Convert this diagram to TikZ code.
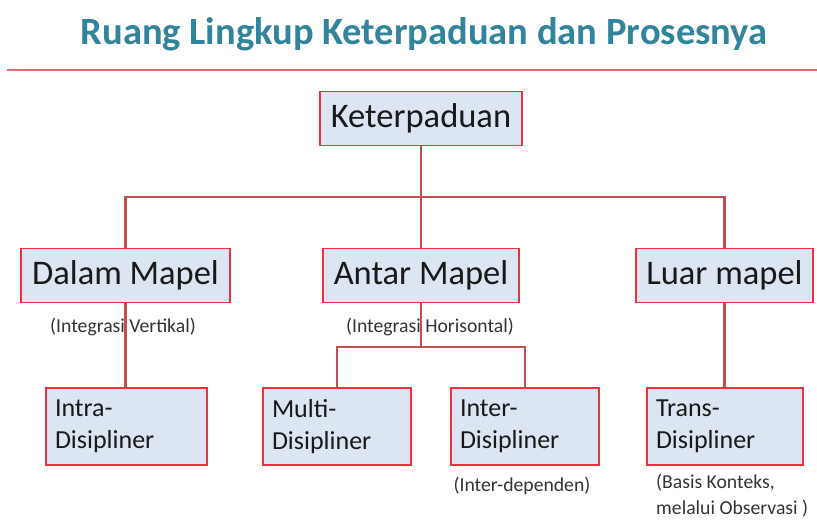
\documentclass[tikz,border=0pt]{standalone}
\usepackage{fontspec}
\setmainfont{Carlito}
\usepackage{xcolor}
\usepackage{tikz}
\usetikzlibrary{positioning,calc}
\definecolor{kpteal}{HTML}{31849B}
\definecolor{kprule}{HTML}{E06C6C}
\definecolor{kplink}{HTML}{C0504D}
\definecolor{kpedge}{HTML}{F0303C}
\definecolor{kpfill}{HTML}{DCE6F2}

\begin{document}
\begin{tikzpicture}[
  x=1pt, y=-1pt,
  boxtop/.style={draw=kpedge, fill=kpfill, line width=1.6pt, inner sep=0pt,
    minimum height=54pt, font=\fontsize{34.5}{40}\selectfont\color{black!90}},
  boxlow/.style={draw=kpedge, fill=kpfill, line width=1.6pt, inner ysep=0pt, inner xsep=9pt,
    minimum height=77pt, align=left, font=\fontsize{26}{32}\selectfont\color{black!90}},
  note/.style={font=\fontsize{19.7}{25.5}\selectfont\color{black!80}, inner sep=0pt},
  link/.style={draw=kplink, line width=2.8pt},
]
\useasboundingbox (0,0) rectangle (817,521);
% title and rule
\node[font=\fontsize{38.5}{44}\selectfont\bfseries\color{kpteal}, anchor=base] (title) at (424,44.5)
  {Ruang Lingkup Keterpaduan dan Prosesnya};
\coordinate (ruleL) at (7,70);
\coordinate (ruleR) at (817,70);
\draw[kprule, line width=1.8pt] (ruleL) -- (ruleR);

% boxes
\node[boxtop, minimum width=202pt] (ket) at (421,118.5) {Keterpaduan};
\node[boxtop, minimum width=209pt] (dalam) at (125.5,275.5) {Dalam Mapel};
\node[boxtop, minimum width=196pt] (antar) at (421,275.5) {Antar Mapel};
\node[boxtop, minimum width=177pt] (luar) at (724.5,275.5) {Luar mapel};
\foreach \nm/\xc/\bw/\tx in {%
  intra/126.5/161/{Intra-\\Disipliner},
  multi/337/148/{Multi-\\Disipliner},
  inter/525/148/{Inter-\\Disipliner},
  trans/725/156/{Trans-\\Disipliner}%
} {
  \pgfmathsetmacro{\tw}{\bw - 18}
  \node[boxlow, text width=\tw pt] (\nm) at (\xc,426.5) {\tx};
}

% connectors
\coordinate (bus) at (421,197);
\coordinate (bus2) at (421,347);
\draw[link] (ket.south) -- (bus) -| (dalam.north);
\draw[link] (bus) -| (luar.north);
\draw[link] (bus) -- (antar.north);
\draw[link] (dalam.south) -- (dalam.south |- intra.north);
\draw[link] (antar.south) -- (bus2) -| (multi.north);
\draw[link] (bus2) -| (inter.north);
\draw[link] (luar.south) -- (luar.south |- trans.north);

% notes
\node[note] (vert) at (123,327) {(Integrasi Vertikal)};
\node[note] (hori) at (430,327) {(Integrasi Horisontal)};
\node[note] (dep) at (522,486) {(Inter-dependen)};
\node[note, align=left, anchor=north west] (obs) at (656,474) {(Basis Konteks,\\melalui Observasi )};
\end{tikzpicture}
\end{document}
